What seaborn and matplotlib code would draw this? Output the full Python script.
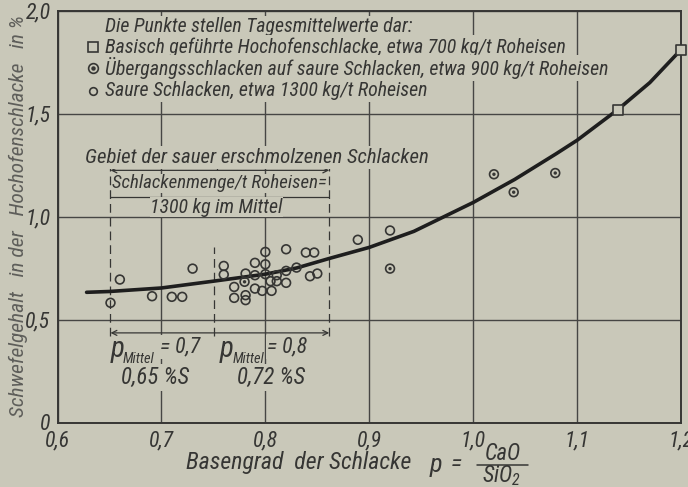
import matplotlib
matplotlib.use("Agg")
import matplotlib.pyplot as plt
from matplotlib import font_manager
from matplotlib.font_manager import FontProperties
from matplotlib.lines import Line2D
from matplotlib.textpath import TextPath
import seaborn as sns

# Tagesmittelwerte: Basengrad p = CaO/SiO2 und Schwefelgehalt der Schlacke in %
saure_p = [0.651, 0.660, 0.691, 0.710, 0.720, 0.730, 0.760, 0.760, 0.770, 0.770,
           0.781, 0.781, 0.781, 0.790, 0.790, 0.790, 0.797, 0.800, 0.800, 0.800,
           0.806, 0.805, 0.811, 0.811, 0.820, 0.820, 0.820, 0.830, 0.839, 0.847,
           0.843, 0.850, 0.889, 0.920]
saure_s = [0.581, 0.694, 0.613, 0.610, 0.610, 0.747, 0.760, 0.718, 0.658, 0.605,
           0.723, 0.618, 0.594, 0.775, 0.715, 0.650, 0.639, 0.828, 0.768, 0.720,
           0.639, 0.686, 0.715, 0.686, 0.841, 0.736, 0.678, 0.752, 0.825, 0.825,
           0.710, 0.723, 0.887, 0.932]
uebergang_p = [0.780, 0.920, 1.020, 1.039, 1.079]
uebergang_s = [0.683, 0.747, 1.205, 1.118, 1.211]
basisch_p = [1.139, 1.200]
basisch_s = [1.518, 1.810]

# Ausgleichskurve
kurve_p = [0.628, 0.650, 0.700, 0.750, 0.800, 0.830, 0.862, 0.900, 0.943, 1.000,
           1.040, 1.080, 1.100, 1.139, 1.170, 1.200]
kurve_s = [0.632, 0.636, 0.653, 0.686, 0.720, 0.750, 0.797, 0.850, 0.928, 1.068,
           1.180, 1.305, 1.370, 1.518, 1.650, 1.810]

x_ticks = [0.6, 0.7, 0.8, 0.9, 1.0, 1.1, 1.2]
x_labels = ["0,6", "0,7", "0,8", "0,9", "1,0", "1,1", "1,2"]
y_ticks = [0.0, 0.5, 1.0, 1.5, 2.0]
y_labels = ["0", "0,5", "1,0", "1,5", "2,0"]

legend_title = "Die Punkte stellen Tagesmittelwerte dar:"
legend_labels = [
    "Basisch geführte Hochofenschlacke, etwa 700 kg/t Roheisen",
    "Übergangsschlacken auf saure Schlacken, etwa 900 kg/t Roheisen",
    "Saure Schlacken, etwa 1300 kg/t Roheisen",
]
y_title = "Schwefelgehalt   in der   Hochofenschlacke   in %"
x_title = "Basengrad  der Schlacke"

bg = "#c9c8b9"
ink = "#363634"

sns.set_theme(style="white")

# schmale Schrift suchen
fonts = font_manager.fontManager.ttflist
names = {f.name for f in fonts}
main_font, stretch = "DejaVu Sans", "normal"
for cand in ["Liberation Sans Narrow", "Roboto Condensed", "Open Sans Condensed",
             "Noto Sans Condensed", "DejaVu Sans Condensed"]:
    if cand in names:
        main_font = cand
        break
else:
    if any(f.name == "DejaVu Sans" and "condensed" in str(f.stretch) for f in fonts):
        main_font, stretch = "DejaVu Sans", "condensed"
    elif "Roboto" in names:
        main_font = "Roboto"

plt.rcParams["font.family"] = [main_font, "DejaVu Sans"]
plt.rcParams["font.style"] = "italic"
plt.rcParams["font.stretch"] = stretch
plt.rcParams["mathtext.fontset"] = "custom"
plt.rcParams["mathtext.it"] = f"{main_font}:italic"
plt.rcParams["mathtext.rm"] = f"{main_font}:italic"
plt.rcParams["text.color"] = ink

prop = FontProperties(family=[main_font, "DejaVu Sans"], style="italic", stretch=stretch)


def size_for(text, width_px):
    w = TextPath((0, 0), text, size=10, prop=prop).get_extents().width
    return 10 * width_px * 0.72 / w


fs = 0.5 * (size_for(legend_title, 314) + size_for(legend_labels[0], 452))
fs_y = size_for(y_title, 400)
fs_x = size_for(x_title, 224)

fig = plt.figure(figsize=(6.88, 4.87), dpi=100, facecolor=bg)
ax = fig.add_axes([57.5 / 688, 1 - 422.5 / 487, 623.5 / 688, 412 / 487])
ax.set_facecolor(bg)

ax.set_xlim(0.6, 1.2)
ax.set_ylim(0, 2.0)
ax.set_xticks(x_ticks, x_labels)
ax.set_yticks(y_ticks, y_labels)
ax.tick_params(length=0, labelsize=fs * 1.1, colors=ink, pad=5)
ax.tick_params(axis="x", pad=6)
for spine in ax.spines.values():
    spine.set_color(ink)
    spine.set_linewidth(1.4)
ax.grid(True, color="#464644", linewidth=1.0)
ax.set_axisbelow(True)
ax.set_xlabel("")
ax.set_ylabel("")

tbox = dict(facecolor=bg, edgecolor="none", pad=1.5)
tight = dict(facecolor=bg, edgecolor="none", pad=0.3)

# Gebiet der sauer erschmolzenen Schlacken
g_left, g_right, g_mid = 0.651, 0.8615, 0.751
dash = (0, (7, 4))
ax.vlines([g_left, g_right], 0.42, 1.25, colors=ink, linewidth=0.9, linestyles=dash, zorder=2)
ax.vlines([g_mid], 0.42, 0.85, colors=ink, linewidth=0.9, linestyles=dash, zorder=2)
ax.text(0.792, 1.287, "Gebiet der sauer erschmolzenen Schlacken", ha="center", va="center",
        fontsize=fs * 1.05, bbox=tbox, zorder=4)
ax.annotate("", xy=(g_left, 1.224), xytext=(g_right, 1.224),
            arrowprops=dict(arrowstyle="<->", color=ink, lw=0.9, shrinkA=0, shrinkB=0,
                            mutation_scale=9), zorder=3)
ax.vlines([0.7535], 1.224, 1.25, colors=ink, linewidth=0.9, zorder=3)
ax.text(0.756, 1.161, "Schlackenmenge/t Roheisen=", ha="center", va="center",
        fontsize=fs * 0.95, bbox=tight, zorder=4)
ax.hlines([1.095], g_left, g_right, colors=ink, linewidth=0.9, zorder=3)
ax.text(0.753, 1.046, "1300 kg im Mittel", ha="center", va="center",
        fontsize=fs, bbox=tight, zorder=4)

ax.annotate("", xy=(g_left, 0.435), xytext=(g_right, 0.435),
            arrowprops=dict(arrowstyle="<->", color=ink, lw=0.9, shrinkA=0, shrinkB=0,
                            mutation_scale=9), zorder=3)
for p_left, sub_left, eq_left, eq_text in [(0.651, 0.6625, 0.699, "= 0,7"),
                                            (0.7558, 0.7682, 0.8019, "= 0,8")]:
    ax.text(p_left, 0.358, "p", ha="left", va="center", fontsize=fs * 1.45, zorder=4)
    ax.text(sub_left, 0.31, "Mittel", ha="left", va="center", fontsize=fs * 0.72, zorder=4)
    ax.text(eq_left, 0.365, eq_text, ha="left", va="center", fontsize=fs * 1.1,
            bbox=dict(facecolor=bg, edgecolor="none", pad=1.0), zorder=4)
ax.text(0.694, 0.219, "0,65 %S", ha="center", va="center", fontsize=fs * 1.15,
        bbox=tbox, zorder=4)
ax.text(0.8058, 0.219, "0,72 %S", ha="center", va="center", fontsize=fs * 1.15,
        bbox=tbox, zorder=4)

# Kurve und Messpunkte
sns.lineplot(x=kurve_p, y=kurve_s, ax=ax, color="#1e1e1e", linewidth=2.6, zorder=5)
sns.scatterplot(x=saure_p, y=saure_s, ax=ax, marker="o", s=40, facecolors="none",
                edgecolor=ink, linewidth=1.2, zorder=6)
sns.scatterplot(x=uebergang_p, y=uebergang_s, ax=ax, marker="o", s=40, facecolors="none",
                edgecolor=ink, linewidth=1.2, zorder=6)
sns.scatterplot(x=uebergang_p, y=uebergang_s, ax=ax, marker="o", s=6, color=ink,
                edgecolor="none", zorder=7)
sns.scatterplot(x=basisch_p, y=basisch_s, ax=ax, marker="s", s=55, color=bg,
                edgecolor=ink, linewidth=1.2, zorder=6, clip_on=False)


# Zeichenerklaerung
def ax_x(px):
    return (px - 57.5) / 623.5


def ax_y(py):
    return (422.5 - py) / 412


ax.text(ax_x(105), ax_y(27), legend_title, transform=ax.transAxes, ha="left", va="center",
        fontsize=fs, bbox=tbox, zorder=4)
key_rows = [47, 68, 91]
key_styles = [dict(marker="s", markersize=7, markerfacecolor=bg),
              dict(marker="o", markersize=7, markerfacecolor="none"),
              dict(marker="o", markersize=5.5, markerfacecolor="none")]
for row, label, style in zip(key_rows, legend_labels, key_styles):
    ax.text(ax_x(105), ax_y(row), label, transform=ax.transAxes, ha="left", va="center",
            fontsize=fs, bbox=tbox, zorder=4)
    ax.plot([ax_x(93)], [ax_y(row)], transform=ax.transAxes, linestyle="none",
            markeredgecolor=ink, markeredgewidth=1.2, clip_on=False, zorder=6, **style)
ax.plot([ax_x(93)], [ax_y(key_rows[1])], transform=ax.transAxes, linestyle="none",
        marker="o", markersize=2.2, color=ink, clip_on=False, zorder=7)


# Achsentitel
def fx(px):
    return px / 688


def fy(py):
    return 1 - py / 487


fig.text(fx(18), fy(216), y_title, rotation=90,
         ha="center", va="center", fontsize=fs_y, color="#5e5e5a")
fig.text(fx(186), fy(463), x_title, ha="left", va="center", fontsize=fs_x, color=ink)
fig.text(fx(430), fy(465), "p", ha="left", va="center", fontsize=fs_x * 1.1, color=ink)
fig.text(fx(451), fy(465), "=", ha="left", va="center", fontsize=fs_x, color=ink)
fig.text(fx(503), fy(453), "CaO", ha="center", va="center", fontsize=fs_x * 0.95, color=ink)
fig.text(fx(502), fy(476), r"SiO$_2$", ha="center", va="center", fontsize=fs_x * 0.95,
         color=ink)
fig.add_artist(Line2D([fx(477), fx(528)], [fy(465), fy(465)], color=ink, linewidth=1.1))

fig.savefig("out.png", dpi=100, facecolor=bg)
